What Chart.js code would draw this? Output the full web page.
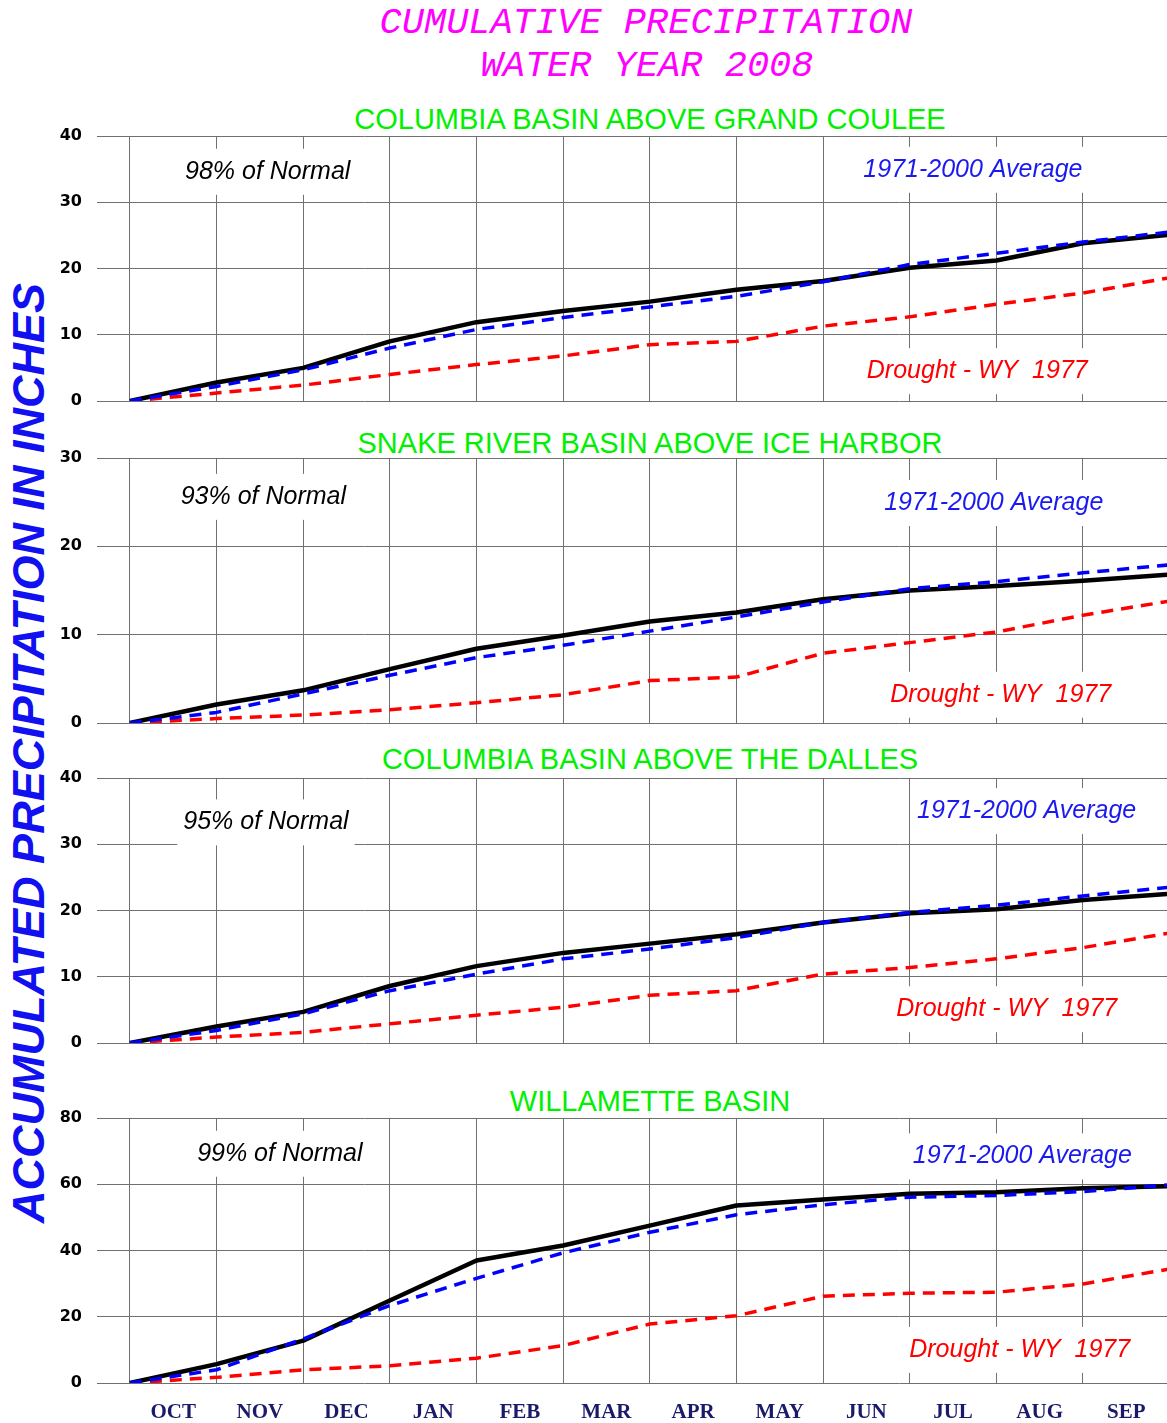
<!DOCTYPE html>
<html>
<head>
<meta charset="utf-8">
<script src="https://cdn.jsdelivr.net/npm/chart.js@4.4.1/dist/chart.umd.min.js"></script>
<style>
  body { margin: 0; background: #fff; width: 1167px; height: 1423px; position: relative; overflow: hidden; }
  .t { position: absolute; white-space: nowrap; transform: translate(-50%, -50%); }
  .main { font: italic 37px "Liberation Mono", "Courier New", monospace; color: #ff00ff; }
  .basin { font: 29px "Liberation Sans", Arial, sans-serif; color: #00f000; }
  .ylab { font: italic bold 45px "Liberation Sans", Arial, sans-serif; color: #1010f0;
          transform: translate(-50%, -50%) rotate(-90deg); }
  .panel { position: absolute; left: 0; width: 1167px; }
</style>
</head>
<body>
<div class="t main" style="left:646px;top:23px">CUMULATIVE PRECIPITATION</div>
<div class="t main" style="left:647px;top:66px">WATER YEAR 2008</div>
<div class="t ylab" style="left:29px;top:753px">ACCUMULATED PRECIPITATION IN INCHES</div>

<script>
// month boundaries (Oct 1 = 0 ... Sep 30 = 12)
const months = ['OCT', 'NOV', 'DEC', 'JAN', 'FEB', 'MAR', 'APR', 'MAY', 'JUN', 'JUL', 'AUG', 'SEP'];
const gridTicks = [0, 1, 2, 3, 4, 5, 6, 7, 8, 9, 10, 11];
const labelTicks = [0.5, 1.5, 2.5, 3.5, 4.5, 5.5, 6.5, 7.5, 8.5, 9.5, 10.5, 11.5];

// Columbia above Grand Coulee
const coulee2008 = [0, 2.8, 5.0, 9.0, 11.9, 13.6, 15.0, 16.8, 18.1, 20.1, 21.2, 23.8, 25.1];
const couleeAvg  = [0, 2.2, 4.7, 8.0, 10.8, 12.6, 14.2, 15.8, 18.0, 20.6, 22.3, 24.0, 25.5];
const coulee1977 = [0, 1.2, 2.4, 4.0, 5.5, 6.8, 8.5, 9.0, 11.3, 12.7, 14.6, 16.3, 18.6];

// Snake above Ice Harbor
const snake2008 = [0, 2.1, 3.7, 6.1, 8.4, 9.9, 11.5, 12.5, 14.0, 15.0, 15.5, 16.1, 16.8];
const snakeAvg  = [0, 1.2, 3.3, 5.4, 7.4, 8.8, 10.4, 12.0, 13.7, 15.2, 16.0, 17.0, 17.9];
const snake1977 = [0, 0.5, 0.9, 1.5, 2.3, 3.2, 4.8, 5.2, 7.9, 9.1, 10.3, 12.2, 13.8];

// Columbia above The Dalles
const dalles2008 = [0, 2.5, 4.7, 8.6, 11.6, 13.6, 15.0, 16.4, 18.2, 19.6, 20.2, 21.6, 22.5];
const dallesAvg  = [0, 1.9, 4.4, 7.9, 10.4, 12.7, 14.2, 15.9, 18.2, 19.7, 20.8, 22.2, 23.5];
const dalles1977 = [0, 0.9, 1.6, 2.9, 4.2, 5.4, 7.2, 7.9, 10.4, 11.4, 12.7, 14.4, 16.6];

// Willamette
const willa2008 = [0, 5.7, 12.8, 24.9, 37.0, 41.5, 47.5, 53.6, 55.4, 57.1, 57.6, 58.8, 59.4];
const willaAvg  = [0, 4.0, 13.3, 23.4, 31.6, 39.3, 45.5, 50.8, 53.8, 56.1, 56.6, 57.8, 59.8];
const willa1977 = [0, 1.7, 4.0, 5.2, 7.5, 11.3, 17.8, 20.3, 26.2, 27.1, 27.4, 29.9, 34.4];

const panels = [
  { title: 'COLUMBIA BASIN ABOVE GRAND COULEE', titleY: 119, top: 136, bottom: 401, ymax: 40, step: 10,
    wy: coulee2008, avg: couleeAvg, dry: coulee1977, pct: '98% of Normal',
    notes: [[1.59, 34.6], [9.73, 34.9], [9.78, 4.5]] },
  { title: 'SNAKE RIVER BASIN ABOVE ICE HARBOR', titleY: 443, top: 458, bottom: 723, ymax: 30, step: 10,
    wy: snake2008, avg: snakeAvg, dry: snake1977, pct: '93% of Normal',
    notes: [[1.54, 25.6], [9.97, 24.9], [10.05, 3.2]] },
  { title: 'COLUMBIA BASIN ABOVE THE DALLES', titleY: 759, top: 778, bottom: 1043, ymax: 40, step: 10,
    wy: dalles2008, avg: dallesAvg, dry: dalles1977, pct: '95% of Normal',
    notes: [[1.57, 33.3], [10.35, 35.0], [10.12, 5.1]] },
  { title: 'WILLAMETTE BASIN', titleY: 1101, top: 1118, bottom: 1383, ymax: 80, step: 20,
    wy: willa2008, avg: willaAvg, dry: willa1977, pct: '99% of Normal',
    notes: [[1.73, 69.2], [10.3, 68.4], [10.27, 10.0]] }
];

function notesPlugin(items) {
  return {
    id: 'notes',
    beforeDatasetsDraw(chart) {
      const { ctx, scales: { x, y } } = chart;
      ctx.save();
      ctx.font = 'italic 25px "Liberation Sans", Arial, sans-serif';
      ctx.textAlign = 'center';
      ctx.textBaseline = 'middle';
      items.forEach(n => {
        const px = x.getPixelForValue(n.x), py = y.getPixelForValue(n.y);
        const w = ctx.measureText(n.text).width;
        ctx.fillStyle = '#fff';
        ctx.fillRect(px - w / 2 - 6, py - 23, w + 12, 46);
        ctx.fillStyle = n.color;
        ctx.fillText(n.text, px, py);
      });
      ctx.restore();
    }
  };
}

const toPts = arr => arr.map((v, i) => ({ x: i, y: v }));
const noPad = s => { s.paddingTop = 0; s.paddingBottom = 0; s.paddingLeft = 0; s.paddingRight = 0; };

panels.forEach((p, idx) => {
  const last = idx === panels.length - 1;
  const t = document.createElement('div');
  t.className = 't basin';
  t.style.left = '650px';
  t.style.top = p.titleY + 'px';
  t.textContent = p.title;
  document.body.appendChild(t);

  const box = document.createElement('div');
  box.className = 'panel';
  const top = p.top - 12;
  const h = last ? 1423 - top : p.bottom - p.top + 24;
  box.style.top = top + 'px';
  box.style.height = h + 'px';
  const cv = document.createElement('canvas');
  box.appendChild(cv);
  document.body.appendChild(box);

  const scales = {
    x: {
      type: 'linear', min: -0.38, max: 11.97,
      afterBuildTicks: s => { s.ticks = gridTicks.map(v => ({ value: v })); },
      ticks: { display: false },
      grid: { color: '#707070', lineWidth: 1, drawTicks: false },
      border: { display: false },
      afterFit: s => { s.height = 0; noPad(s); }
    },
    y: {
      min: 0, max: p.ymax,
      ticks: { stepSize: p.step, color: '#000', padding: 15,
               font: { family: '"DejaVu Sans", sans-serif', weight: 'bold', size: 16 } },
      grid: { color: '#707070', lineWidth: 1, drawTicks: false },
      border: { display: false },
      afterFit: s => { s.width = 97; noPad(s); }
    }
  };
  if (last) {
    scales.xm = {
      type: 'linear', position: 'bottom', min: -0.38, max: 11.97,
      afterBuildTicks: s => { s.ticks = labelTicks.map(v => ({ value: v })); },
      ticks: {
        autoSkip: false, maxRotation: 0, padding: 17, color: '#1a1a6a',
        font: { family: '"Liberation Serif", "Times New Roman", serif', weight: 'bold', size: 21 },
        callback: v => months[Math.floor(v)]
      },
      grid: { display: false, drawTicks: false },
      border: { display: false },
      afterFit: s => { s.height = 40; noPad(s); }
    };
  }

  new Chart(cv, {
    type: 'line',
    data: {
      datasets: [
        { label: '1971-2000 Average', data: toPts(p.avg), borderColor: '#0000ff', borderWidth: 3.5,
          borderDash: [12, 8], order: 0 },
        { label: 'WY 2008', data: toPts(p.wy), borderColor: '#000', borderWidth: 4.5, order: 1 },
        { label: 'Drought - WY 1977', data: toPts(p.dry), borderColor: '#ff0000', borderWidth: 3.5,
          borderDash: [12, 8], order: 2 }
      ]
    },
    options: {
      responsive: true,
      maintainAspectRatio: false,
      animation: false,
      layout: { padding: { top: 12, bottom: last ? 0 : 12, left: 0, right: 0 } },
      elements: { point: { radius: 0 }, line: { tension: 0, borderJoinStyle: 'round' } },
      plugins: { legend: { display: false }, tooltip: { enabled: false } },
      scales: scales
    },
    plugins: [notesPlugin([
      { text: p.pct, x: p.notes[0][0], y: p.notes[0][1], color: '#000' },
      { text: '1971-2000 Average', x: p.notes[1][0], y: p.notes[1][1], color: '#1a1af0' },
      { text: 'Drought - WY  1977', x: p.notes[2][0], y: p.notes[2][1], color: '#ff0000' }
    ])]
  });
});
</script>
</body>
</html>
